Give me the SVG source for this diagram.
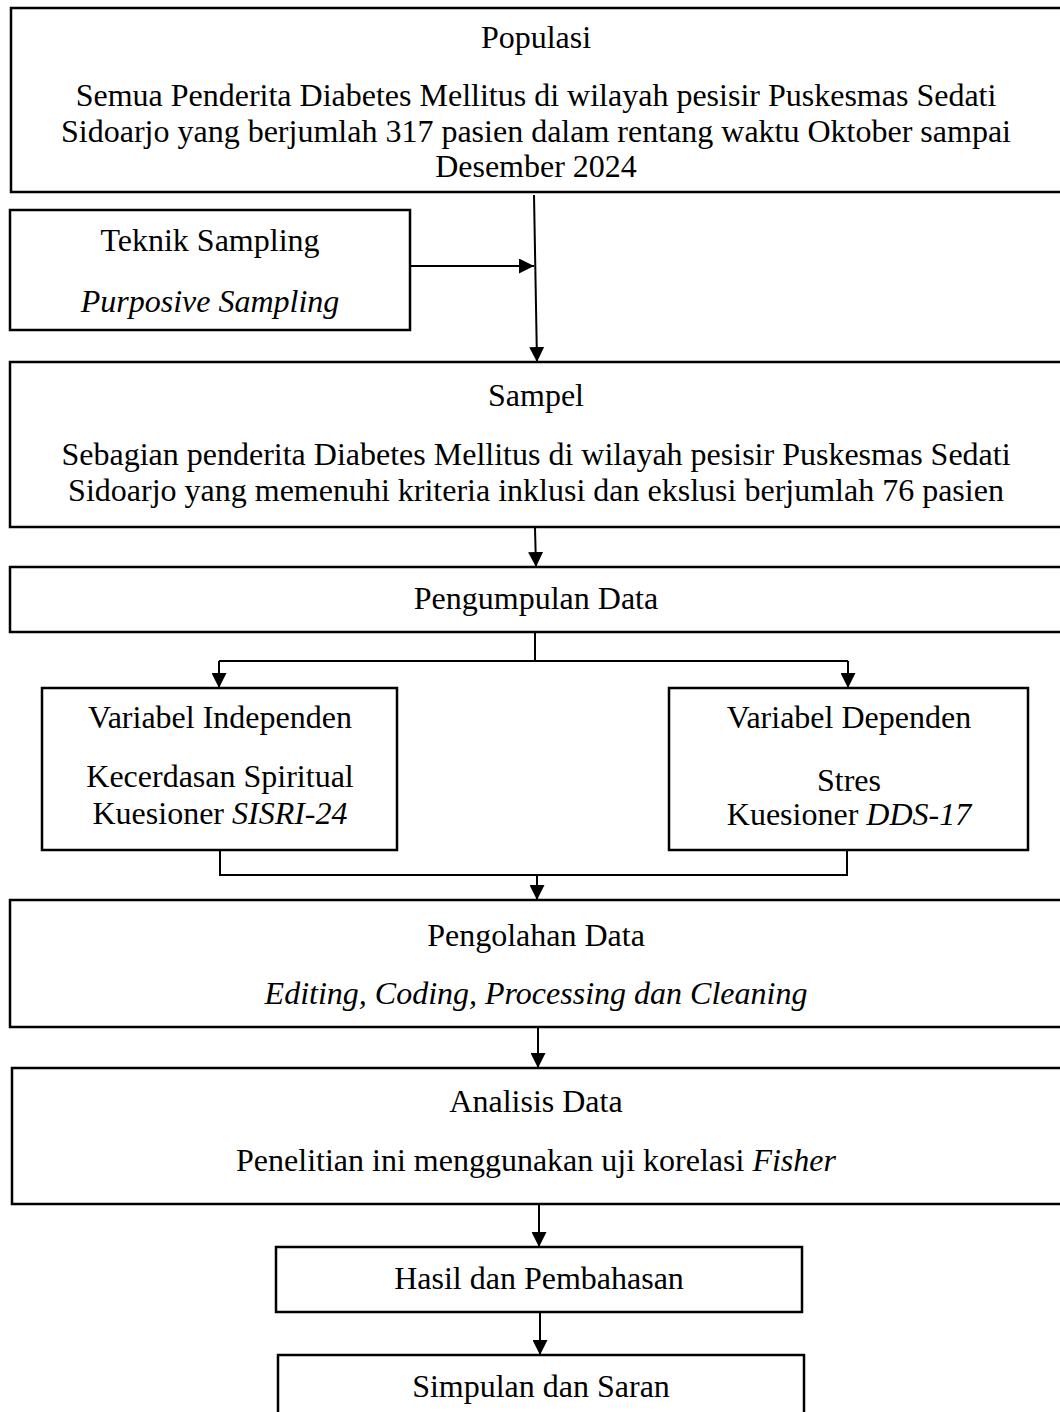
<svg xmlns="http://www.w3.org/2000/svg" width="1060" height="1412" viewBox="0 0 1060 1412">
<style>
.box{fill:#fff;stroke:#000;stroke-width:2.5}
.t{font-family:"Liberation Serif","Times New Roman",serif;font-size:32px;fill:#000;text-anchor:middle}
.i{font-style:italic}
.ln{fill:none;stroke:#000;stroke-width:2}
</style>
<defs>
<marker id="ah" markerUnits="userSpaceOnUse" markerWidth="16" markerHeight="15" refX="15" refY="7.5" orient="auto">
<path d="M0,0 L15,7.5 L0,15 Z" fill="#000"/>
</marker>
</defs>
<rect width="1060" height="1412" fill="#fff"/>
<g id="populasi">
<rect class="box" x="11" y="8" width="1060" height="184"/>
<text class="t" x="536" y="48">Populasi</text>
<text class="t" x="536" y="106">Semua Penderita Diabetes Mellitus di wilayah pesisir Puskesmas Sedati</text>
<text class="t" x="536" y="142">Sidoarjo yang berjumlah 317 pasien dalam rentang waktu Oktober sampai</text>
<text class="t" x="536" y="177">Desember 2024</text>
</g>
<g id="teknik">
<rect class="box" x="10" y="210" width="400" height="120"/>
<text class="t" x="210" y="251">Teknik Sampling</text>
<text class="t i" x="210" y="312">Purposive Sampling</text>
</g>
<g id="sampel">
<rect class="box" x="10" y="362" width="1060" height="165"/>
<text class="t" x="536" y="406">Sampel</text>
<text class="t" x="536" y="465">Sebagian penderita Diabetes Mellitus di wilayah pesisir Puskesmas Sedati</text>
<text class="t" x="536" y="501">Sidoarjo yang memenuhi kriteria inklusi dan ekslusi berjumlah 76 pasien</text>
</g>
<g id="pengumpulan">
<rect class="box" x="10" y="567" width="1060" height="65"/>
<text class="t" x="536" y="609">Pengumpulan Data</text>
</g>
<g id="independen">
<rect class="box" x="42" y="688" width="355" height="162"/>
<text class="t" x="220" y="728">Variabel Independen</text>
<text class="t" x="220" y="787">Kecerdasan Spiritual</text>
<text class="t" x="220" y="824">Kuesioner <tspan class="i">SISRI-24</tspan></text>
</g>
<g id="dependen">
<rect class="box" x="669" y="688" width="359" height="162"/>
<text class="t" x="849" y="728">Variabel Dependen</text>
<text class="t" x="849" y="791">Stres</text>
<text class="t" x="849" y="825">Kuesioner <tspan class="i">DDS-17</tspan></text>
</g>
<g id="pengolahan">
<rect class="box" x="10" y="900" width="1060" height="127"/>
<text class="t" x="536" y="946">Pengolahan Data</text>
<text class="t i" x="536" y="1004">Editing, Coding, Processing dan Cleaning</text>
</g>
<g id="analisis">
<rect class="box" x="12" y="1068" width="1060" height="136"/>
<text class="t" x="536" y="1112">Analisis Data</text>
<text class="t" x="536" y="1171">Penelitian ini menggunakan uji korelasi <tspan class="i">Fisher</tspan></text>
</g>
<g id="hasil">
<rect class="box" x="276" y="1247" width="526" height="65"/>
<text class="t" x="539" y="1289">Hasil dan Pembahasan</text>
</g>
<g id="simpulan">
<rect class="box" x="278" y="1355" width="526" height="80"/>
<text class="t" x="541" y="1397">Simpulan dan Saran</text>
</g>
<g id="connectors">
<line class="ln" x1="534" y1="195" x2="537" y2="362" marker-end="url(#ah)"/>
<line class="ln" x1="410" y1="266" x2="534" y2="266" marker-end="url(#ah)"/>
<line class="ln" x1="535" y1="528" x2="536" y2="567" marker-end="url(#ah)"/>
<polyline class="ln" points="535,633 535,661"/>
<polyline class="ln" points="219,661 848,661"/>
<line class="ln" x1="219" y1="661" x2="219" y2="688" marker-end="url(#ah)"/>
<line class="ln" x1="848" y1="661" x2="848" y2="688" marker-end="url(#ah)"/>
<polyline class="ln" points="220,850 220,875 847,875 847,850"/>
<line class="ln" x1="537" y1="875" x2="537" y2="900" marker-end="url(#ah)"/>
<line class="ln" x1="538" y1="1028" x2="538" y2="1068" marker-end="url(#ah)"/>
<line class="ln" x1="539" y1="1205" x2="539" y2="1247" marker-end="url(#ah)"/>
<line class="ln" x1="540" y1="1313" x2="540" y2="1355" marker-end="url(#ah)"/>
</g>
</svg>
